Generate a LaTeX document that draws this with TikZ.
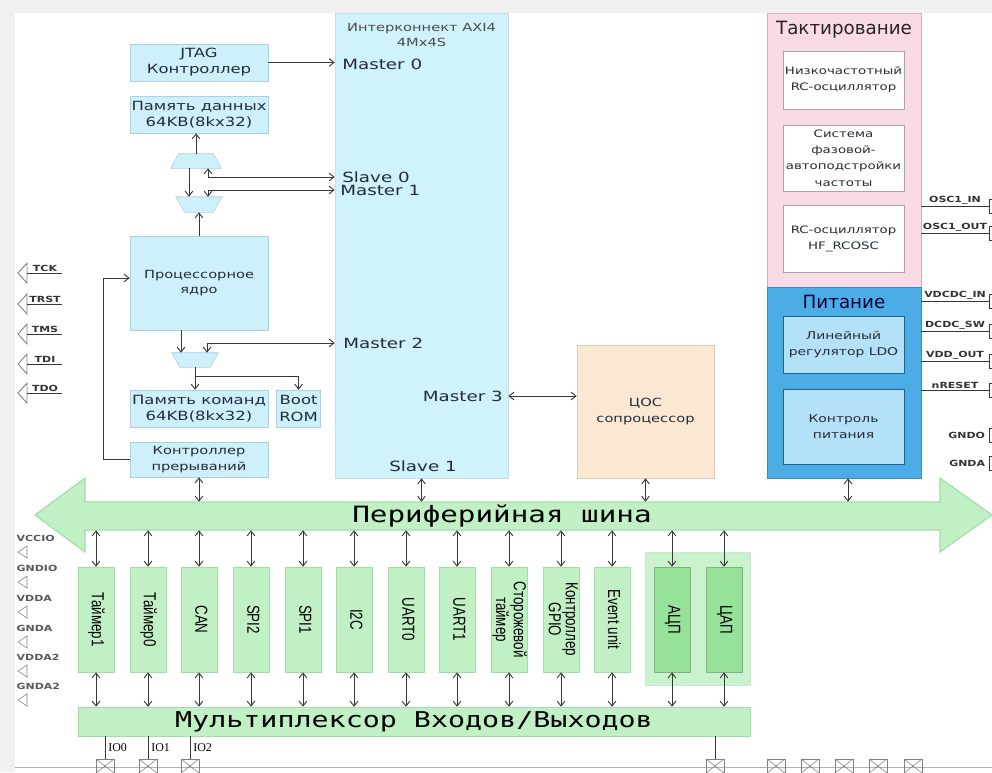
\documentclass[tikz,border=0pt]{standalone}
\usepackage{graphicx}
\usepackage{fontspec}
\setmainfont{DejaVu Sans}
\newfontfamily\boxfont[FakeStretch=1.3]{DejaVu Sans}
\newfontfamily\busfont[FakeStretch=1.3]{DejaVu Sans Mono}
\newfontfamily\blkfont{Liberation Sans}
\newfontfamily\iofont{Liberation Serif}
\usetikzlibrary{arrows.meta,positioning,calc}
\definecolor{boxblue}{RGB}{205,240,250}
\definecolor{boxedge}{RGB}{170,210,225}
\definecolor{axiblue}{RGB}{208,242,250}
\definecolor{dspfill}{RGB}{250,232,210}
\definecolor{dspedge}{RGB}{225,205,180}
\definecolor{clkpink}{RGB}{250,218,228}
\definecolor{clkedge}{RGB}{215,175,190}
\definecolor{pwrblue}{RGB}{75,172,230}
\definecolor{pwredge}{RGB}{50,140,200}
\definecolor{pwrinner}{RGB}{178,225,248}
\definecolor{pergreen}{RGB}{192,240,196}
\definecolor{peredge}{RGB}{160,222,170}
\definecolor{anagreen}{RGB}{150,226,152}
\definecolor{anagroup}{RGB}{202,242,204}
\definecolor{wiregray}{RGB}{55,55,55}
\definecolor{textgray}{RGB}{35,45,55}
\newcommand{\vtext}[1]{\scalebox{1}[1.3]{\renewcommand{\arraystretch}{0.8}\begin{tabular}{@{}c@{}}#1\end{tabular}}}

\begin{document}
\begin{tikzpicture}[
    x=0.025cm, y=-0.025cm,
    >={Straight Barb[length=3.5pt,width=5.5pt]},
    wire/.style={draw=wiregray, line width=0.65pt},
    box/.style={rectangle, draw=boxedge, fill=boxblue, align=center, inner sep=1pt, font=\boxfont\fontsize{8}{11}\selectfont, text=textgray},
    bigbox/.style={box, font=\boxfont\fontsize{9}{11.5}\selectfont},
    muxarea/.style={rectangle, inner sep=0pt, minimum height=0.35cm},
    muxline/.style={draw=boxedge, fill=boxblue},
    port/.style={inner sep=0pt, font=\boxfont\fontsize{10}{12}\selectfont, text=textgray},
    title/.style={font=\fontsize{13}{15}\selectfont},
    clkbox/.style={box, draw=gray!70, fill=white, minimum width=3.025cm, font=\boxfont\fontsize{7.3}{11.5}\selectfont},
    pwrbox/.style={box, draw=pwredge!70!black, fill=pwrinner, minimum width=3.025cm, font=\boxfont\fontsize{7.6}{11.5}\selectfont},
    periph/.style={rectangle, draw=peredge, fill=pergreen, minimum width=0.9cm, minimum height=2.625cm, inner sep=0pt, font=\blkfont\fontsize{9.5}{11}\selectfont},
    rpin/.style={rectangle, draw=wiregray, fill=white, minimum width=0.2cm, minimum height=0.35cm, inner sep=0pt},
    pinlbl/.style={font=\boxfont\bfseries\fontsize{6}{7.5}\selectfont, inner sep=1pt, text=black!80},
    iopad/.style={rectangle, draw=gray, minimum width=0.45cm, minimum height=0.35cm, inner sep=0pt,
        path picture={\draw[gray] (path picture bounding box.south west) -- (path picture bounding box.north east)
            (path picture bounding box.north west) -- (path picture bounding box.south east);}},
    iolbl/.style={font=\iofont\fontsize{8.5}{10}\selectfont, inner sep=2pt}
]
    \useasboundingbox (0,0) rectangle (992,772);
    \fill[black!6] (0,0) rectangle (992,772);
    \fill[white] (15,13) rectangle (992,772);

    % Core
    \node[bigbox, minimum width=3.45cm, minimum height=0.925cm] (jtag) at (199,62.5) {JTAG\\Контроллер};
    \node[bigbox, minimum width=3.45cm, minimum height=0.925cm] (dmem) at (199,114.5) {Память данных\\64KB(8kx32)};
    \node[muxarea, minimum width=1.25cm] (mux1) at (196,161) {};
    \draw[muxline] ($(mux1.north west)+(8,0)$) -- ($(mux1.north east)+(-8,0)$) -- (mux1.south east) -- (mux1.south west) -- cycle;
    \node[muxarea, minimum width=1.15cm, minimum height=0.375cm] (mux2) at (199,204.5) {};
    \draw[muxline] (mux2.north west) -- (mux2.north east) -- ($(mux2.south east)+(-9,0)$) -- ($(mux2.south west)+(9,0)$) -- cycle;
    \node[box, minimum width=3.45cm, minimum height=2.35cm] (core) at (199,283) {Процессорное\\ядро};
    \node[muxarea, minimum width=1.15cm] (mux3) at (195,360) {};
    \draw[muxline] (mux3.north west) -- (mux3.north east) -- ($(mux3.south east)+(-8,0)$) -- ($(mux3.south west)+(8,0)$) -- cycle;
    \node[bigbox, minimum width=3.45cm, minimum height=0.925cm] (pmem) at (199,408.5) {Память команд\\64KB(8kx32)};
    \node[bigbox, minimum width=1.1cm, minimum height=0.925cm, right=0.2cm of pmem] (brom) {Boot\\ROM};
    \node[box, minimum width=3.45cm, minimum height=0.875cm] (irq) at (199,459.5) {Контроллер\\прерываний};

    % Interconnect
    \node[box, fill=axiblue, draw=boxedge!70, minimum width=4.325cm, minimum height=11.625cm] (axi) at (421.5,245.5) {};
    \node[box, draw=none, fill=none, below=0.25cm of axi.north, inner sep=0pt, text=black!70] (axititle) {Интерконнект AXI4\\4Mx4S};
    \node[port, anchor=west] (m0) at (342,64) {Master 0};
    \node[port, anchor=west] (s0) at (342,177) {Slave 0};
    \node[port, anchor=west] (m1) at (340,190) {Master 1};
    \node[port, anchor=west] (m2) at (343,343) {Master 2};
    \node[port, anchor=east] (m3) at (503,396) {Master 3};
    \node[port] (s1) at (423,466) {Slave 1};

    % DSP
    \node[box, fill=dspfill, draw=dspedge, minimum width=3.425cm, minimum height=3.325cm] (dsp) at (645.5,411.5) {ЦОС\\сопроцессор};

    % Clock and power
    \node[rectangle, draw=clkedge, fill=clkpink, minimum width=3.85cm, minimum height=6.85cm, inner sep=0pt] (clk) at (844,150) {};
    \node[title, text=black!85] (clktitle) at (844,30) {Тактирование};
    \node[clkbox, minimum height=1.45cm] (lfrc) at (843.5,80) {Низкочастотный\\RC-осциллятор};
    \node[clkbox, minimum height=1.65cm] (pll) at (843.5,158) {Система\\фазовой-\\автоподстройки\\частоты};
    \node[clkbox, minimum height=1.675cm] (hfrc) at (843.5,238.5) {RC-осциллятор\\HF\_RCOSC};
    \node[rectangle, draw=pwredge, fill=pwrblue, minimum width=3.85cm, minimum height=4.775cm, inner sep=0pt] (pwr) at (844,382.5) {};
    \node[title, text=black!80!blue] (pwrtitle) at (844,302) {Питание};
    \node[pwrbox, minimum height=1.425cm] (ldo) at (843.5,344.5) {Линейный\\регулятор LDO};
    \node[pwrbox, minimum height=1.875cm] (pmon) at (843.5,426.5) {Контроль\\питания};

    % Bus and multiplexer
    \draw[draw=peredge, fill=pergreen, line width=0.8pt] (35,515) -- (85,478) -- (85,502) -- (940,502) -- (940,478)
        -- (992,515) -- (940,552) -- (940,530) -- (85,530) -- (85,552) -- cycle;
    \node[minimum width=21.375cm, minimum height=0.7cm, inner sep=0pt, font=\busfont\fontsize{16}{18}\selectfont] (bus) at (502,516) {Периферийная шина};
    \node[rectangle, draw=peredge, fill=pergreen, minimum width=16.8cm, minimum height=0.725cm, inner sep=0pt,
        font=\busfont\fontsize{15.5}{17}\selectfont] (mux) at (414,721.5) {Мультиплексор Входов/Выходов};
    \node[rectangle, draw=peredge!60, fill=anagroup, minimum width=2.625cm, minimum height=3.325cm] (anagrp) at (697.5,618.5) {};

    % Peripherals
    \foreach \x/\n/\t in {96/tmr1/Таймер1, 148/tmr0/Таймер0, 199/can/CAN, 251/spi2/SPI2, 303/spi1/SPI1, 354/itc/I2C,
        406/uart0/UART0, 457/uart1/UART1, 509/wdt/{Сторожевой\\таймер}, 561/gpio/{Контроллер\\GPIO}, 612/evu/Event unit} {
        \node[periph] (\n) at (\x,619.5) {\rotatebox{-90}{\vtext{\t}}};
        \draw[wire,<->] (\n.north) -- (\n.north |- bus.south);
        \draw[wire,<->] (\n.south) -- (\n.south |- mux.north);
    }
    \foreach \x/\n/\t in {672/adc/АЦП, 724/dac/ЦАП} {
        \node[periph, fill=anagreen, draw=peredge!80!black] (\n) at (\x,619.5) {\rotatebox{-90}{\vtext{\t}}};
        \draw[wire,<->] (\n.north) -- (\n.north |- bus.south);
        \draw[wire,<->] (\n.south) -- (\n.south |- mux.north);
    }

    % Edges
    \draw[wire,->] (jtag.east) -- (jtag.east -| axi.west);
    \draw[wire,->] (mux1.north) -- (mux1.north |- dmem.south);
    \draw[wire,->] ([xshift=-0.175cm]mux1.south) -- ([xshift=-0.175cm]mux1.south |- mux2.north);
    \draw[wire,<->] ([xshift=0.3cm]mux1.south) |- (s0.west -| axi.west);
    \draw[wire,<->] ([xshift=0.225cm]mux2.north) |- (m1.west -| axi.west);
    \draw[wire,->] (core.north) -- (mux2.south);
    \draw[wire,->] ([xshift=-0.45cm]core.south) -- ([xshift=-0.45cm]core.south |- mux3.north);
    \draw[wire,<->] ([xshift=0.3cm]mux3.north) |- (m2.west -| axi.west);
    \draw[wire,->] (mux3.south) -- (mux3.south |- pmem.north);
    \draw[wire,->] (mux3.south) ++(0,9) -| (brom.north);
    \draw[wire,->] (irq.west) -- ++(-26,0) |- ([yshift=0.125cm]core.west);
    \draw[wire,<->] (irq.south) -- (irq.south |- bus.north);
    \draw[wire,<->] (m3.east -| axi.east) -- (m3.east -| dsp.west);
    \draw[wire,<->] (axi.south) -- (axi.south |- bus.north);
    \draw[wire,<->] (dsp.south) -- (dsp.south |- bus.north);
    \draw[wire,<->] ([xshift=0.1cm]pwr.south) -- ([xshift=0.1cm]pwr.south |- bus.north);

    % Right pins
    \foreach \y/\t/\n in {206/OSC1\_IN/posci, 233/OSC1\_OUT/posco} {
        \node[rpin] (\n) at (993,\y) {};
        \draw[wire] (\n.west -| clk.east) -- (\n.west) node[midway, above, pinlbl] (t\n) {\t};
    }
    \foreach \y/\t/\n in {301/VDCDC\_IN/pvin, 331/DCDC\_SW/psw, 361/VDD\_OUT/pvdd, 390/nRESET/prst} {
        \node[rpin] (\n) at (993,\y) {};
        \draw[wire] (\n.west -| pwr.east) -- (\n.west) node[midway, above, pinlbl] (t\n) {\t};
    }
    \node[rpin] (pgndo) at (993,435) {};
    \node[pinlbl, left=0.05cm of pgndo] (tgndo) {GNDO};
    \node[rpin] (pgnda) at (993,463) {};
    \node[pinlbl, left=0.05cm of pgnda] (tgnda) {GNDA};

    % Left pins
    \foreach \y/\t in {273/TCK, 304/TRST, 334/TMS, 364/TDI, 393/TDO} {
        \draw[gray, line width=0.6pt] (27,\y-10) -- (18,\y) -- (27,\y+10) -- cycle;
        \draw[wire] (27,\y) -- (62,\y);
        \node[pinlbl, anchor=south] (l\t) at (45,\y) {\t};
    }
    \foreach \y/\t in {538/VCCIO, 568/GNDIO, 598/VDDA, 628/GNDA, 657/VDDA2, 686/GNDA2} {
        \node[pinlbl, anchor=west, text=black!65] (v\t) at (15,\y) {\t};
        \draw[gray] (27,\y+8) -- (18,\y+14) -- (27,\y+20) -- cycle;
    }

    % IO pads
    \draw[gray!60] (15,767) -- (992,767);
    \foreach \x/\n in {105/io0, 148/io1, 190/io2, 715/ioa, 776/iob, 810/ioc, 844/iod, 878/ioe, 913/iof}
        \node[iopad] (\n) at (\x,766) {};
    \foreach \n/\t in {io0/IO0, io1/IO1, io2/IO2}
        \draw[wire] (\n.north |- mux.south) -- (\n.north) node[midway, right, iolbl] (t\n) {\t};
    \draw[wire] (ioa.north |- mux.south) -- (ioa.north);
\end{tikzpicture}
\end{document}
